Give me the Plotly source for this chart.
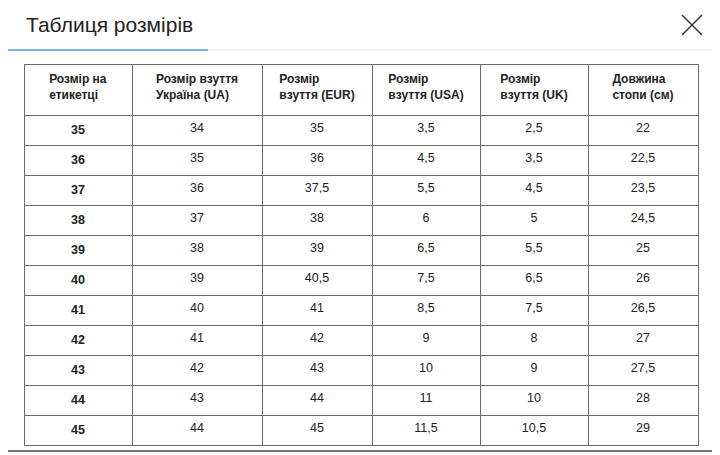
import plotly.graph_objects as go

header = ["<b>Розмір на<br>етикетці</b>", "<b>Розмір взуття<br>Україна (UA)</b>", "<b>Розмір<br>взуття (EUR)</b>",
          "<b>Розмір<br>взуття (USA)</b>", "<b>Розмір<br>взуття (UK)</b>", "<b>Довжина<br>стопи (см)</b>"]
label = ["35", "36", "37", "38", "39", "40", "41", "42", "43", "44", "45"]
ua = ["34", "35", "36", "37", "38", "39", "40", "41", "42", "43", "44"]
eur = ["35", "36", "37,5", "38", "39", "40,5", "41", "42", "43", "44", "45"]
usa = ["3,5", "4,5", "5,5", "6", "6,5", "7,5", "8,5", "9", "10", "11", "11,5"]
uk = ["2,5", "3,5", "4,5", "5", "5,5", "6,5", "7,5", "8", "9", "10", "10,5"]
foot = ["22", "22,5", "23,5", "24,5", "25", "26", "26,5", "27", "27,5", "28", "29"]
col_widths = [108, 130, 110, 108, 108, 110]

W, H = 720, 455
O = 8  # page body offset compensation

def px(x):
    return (x - O) / W

def py(y):
    return 1 - (y - O) / H

fig = go.Figure(go.Table(
    columnwidth=col_widths,
    domain=dict(x=[px(24), px(698)], y=[0, py(64)]),
    header=dict(values=header, height=51, align="center",
                line=dict(color="#6b6b6b", width=1), fill_color="white",
                font=dict(family="Liberation Sans, Arial", size=12, color="#222")),
    cells=dict(values=[["<b>%s</b>" % v for v in label], ua, eur, usa, uk, foot],
               height=29.5, align="center",
               line=dict(color="#6b6b6b", width=1), fill_color="white",
               font=dict(family="Liberation Sans, Arial", size=12.5, color="#222")),
))

shapes = [
    dict(type="line", xref="paper", yref="paper", x0=0, x1=px(208), y0=py(50), y1=py(50),
         line=dict(color="#7ab8e8", width=2)),
    dict(type="line", xref="paper", yref="paper", x0=px(208), x1=1, y0=py(50), y1=py(50),
         line=dict(color="#e2e2e2", width=1)),
    dict(type="line", xref="paper", yref="paper", x0=px(682), x1=px(702), y0=py(15), y1=py(35),
         line=dict(color="#333", width=1.5)),
    dict(type="line", xref="paper", yref="paper", x0=px(682), x1=px(702), y0=py(35), y1=py(15),
         line=dict(color="#333", width=1.5)),
    dict(type="line", xref="paper", yref="paper", x0=0, x1=1, y0=py(451), y1=py(451),
         line=dict(color="#444", width=1.5)),
]
fig.update_layout(
    width=W, height=H, margin=dict(l=0, r=0, t=0, b=0),
    paper_bgcolor="white", plot_bgcolor="white", shapes=shapes,
    annotations=[dict(text="Таблиця розмірів", xref="paper", yref="paper", x=px(24), y=py(25),
                      xanchor="left", yanchor="middle", showarrow=False,
                      font=dict(family="Liberation Sans, Arial", size=21, color="#222"))],
)
fig.write_html("out.html")
